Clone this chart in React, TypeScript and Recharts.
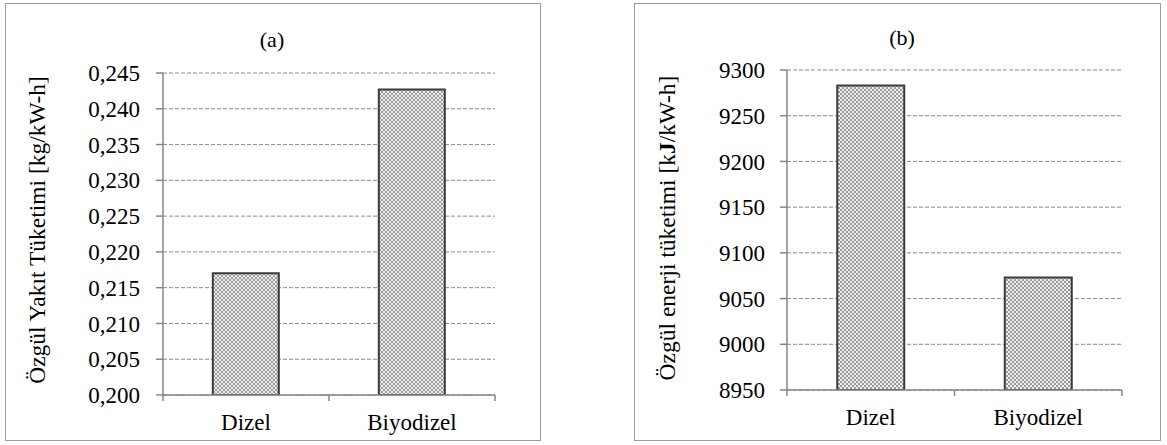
import React from 'react';
import { BarChart, Bar, XAxis, YAxis, CartesianGrid } from 'recharts';

const categories = ['Dizel', 'Biyodizel'];
const fuelConsumption = [0.217, 0.2427];
const energyConsumption = [9283, 9073];
const fuelTicks = [0.2, 0.205, 0.21, 0.215, 0.22, 0.225, 0.23, 0.235, 0.24, 0.245];
const energyTicks = [8950, 9000, 9050, 9100, 9150, 9200, 9250, 9300];

const FONT = "'Liberation Serif', 'Times New Roman', serif";
const AXIS = '#868686';

interface PanelProps {
  left: number;
  top: number;
  width: number;
  height: number;
  margin: { top: number; right: number; bottom: number; left: number };
  values: number[];
  ticks: number[];
  format: (v: number) => string;
  patternId: string;
  tickMargin: number;
  title: string;
  titleX: number;
  titleY: number;
  label: React.ReactNode;
  labelX: number;
  labelY: number;
}

const Y_WIDTH = 60;
const X_HEIGHT = 30;

const Panel: React.FC<PanelProps> = (p) => {
  const data = categories.map((name, i) => ({ name, value: p.values[i] }));
  const plotLeft = p.margin.left + Y_WIDTH;
  const plotWidth = p.width - plotLeft - p.margin.right;
  const axisY = p.height - p.margin.bottom - X_HEIGHT;
  const band = plotWidth / categories.length;

  // category ticks sit on the band edges, like Excel
  const renderCatTick = (props: any) => {
    const { x, y, payload, index } = props;
    const edges = [x - band / 2];
    if (index === categories.length - 1) edges.push(x + band / 2);
    return (
      <g>
        {edges.map((ex) => (
          <line key={ex} x1={ex} x2={ex} y1={axisY} y2={axisY + 6} stroke={AXIS} strokeWidth={1.5} />
        ))}
        <text x={x} y={y} dy="0.71em" textAnchor="middle" fill="#000" style={{ fontFamily: FONT, fontSize: 23 }}>
          {payload.value}
        </text>
      </g>
    );
  };

  const renderValTick = (props: any) => {
    const { x, y, payload } = props;
    return (
      <text x={x} y={y} dy="0.355em" textAnchor="end" fill="#000" style={{ fontFamily: FONT, fontSize: 23 }}>
        {p.format(payload.value)}
      </text>
    );
  };

  return (
    <>
      <div
        style={{
          position: 'absolute',
          left: p.left,
          top: p.top,
          width: p.width,
          height: p.height,
          border: '1.5px solid #9c9c9c',
          boxSizing: 'border-box',
        }}
      />
      <div style={{ position: 'absolute', left: p.left, top: p.top, fontFamily: FONT }}>
        <BarChart width={p.width} height={p.height} data={data} margin={p.margin} barCategoryGap="30%">
          <defs>
            <pattern id={p.patternId} width="4" height="4" patternUnits="userSpaceOnUse">
              <rect width="4" height="4" fill="#efefef" />
              <rect width="2" height="2" fill="#9a9a9a" />
              <rect x="2" y="2" width="2" height="2" fill="#9a9a9a" />
            </pattern>
          </defs>
          <CartesianGrid vertical={false} stroke="#8a8a8a" strokeDasharray="4 2" />
          <XAxis
            dataKey="name"
            height={X_HEIGHT}
            stroke={AXIS}
            strokeWidth={1.5}
            tickLine={false}
            tickSize={5}
            tickMargin={14}
            tick={renderCatTick}
            interval={0}
          />
          <YAxis
            type="number"
            width={Y_WIDTH}
            domain={[p.ticks[0], p.ticks[p.ticks.length - 1]]}
            ticks={p.ticks}
            interval={0}
            allowDataOverflow
            stroke={AXIS}
            strokeWidth={1.5}
            tickSize={7}
            tickMargin={p.tickMargin}
            tick={renderValTick}
          />
          <Bar dataKey="value" fill={`url(#${p.patternId})`} stroke="#3a3a3a" strokeWidth={2} isAnimationActive={false} />
        </BarChart>
      </div>
      <div
        style={{
          position: 'absolute',
          left: p.titleX,
          top: p.titleY,
          transform: 'translate(-50%, -50%)',
          fontFamily: FONT,
          fontSize: 22,
          lineHeight: 1,
          whiteSpace: 'nowrap',
        }}
      >
        {p.title}
      </div>
      <div
        style={{
          position: 'absolute',
          left: p.labelX,
          top: p.labelY,
          transform: 'translate(-50%, -50%) rotate(-90deg)',
          fontFamily: FONT,
          fontSize: 23.5,
          lineHeight: 1,
          whiteSpace: 'nowrap',
        }}
      >
        {p.label}
      </div>
    </>
  );
};

const App: React.FC = () => (
  <div style={{ position: 'absolute', left: 0, top: 0, width: 1167, height: 445, background: '#fff', fontFamily: FONT }}>
    <Panel
      left={5}
      top={3}
      width={536}
      height={438}
      margin={{ top: 70, right: 46, bottom: 16, left: 98 }}
      values={fuelConsumption}
      ticks={fuelTicks}
      format={(v) => v.toFixed(3).replace('.', ',')}
      patternId="chkA"
      tickMargin={16}
      title="(a)"
      titleX={272}
      titleY={40}
      label="Özgül Yakıt Tüketimi [kg/kW-h]"
      labelX={38}
      labelY={230}
    />
    <Panel
      left={634}
      top={3}
      width={527}
      height={438}
      margin={{ top: 67, right: 39, bottom: 21, left: 93 }}
      values={energyConsumption}
      ticks={energyTicks}
      format={(v) => String(v)}
      patternId="chkB"
      tickMargin={15}
      title="(b)"
      titleX={902}
      titleY={38}
      label={
        <>
          Özgül enerji tüketimi [k<span style={{ fontWeight: 'bold' }}>J</span>/kW-h]
        </>
      }
      labelX={668}
      labelY={228}
    />
  </div>
);

export default App;
